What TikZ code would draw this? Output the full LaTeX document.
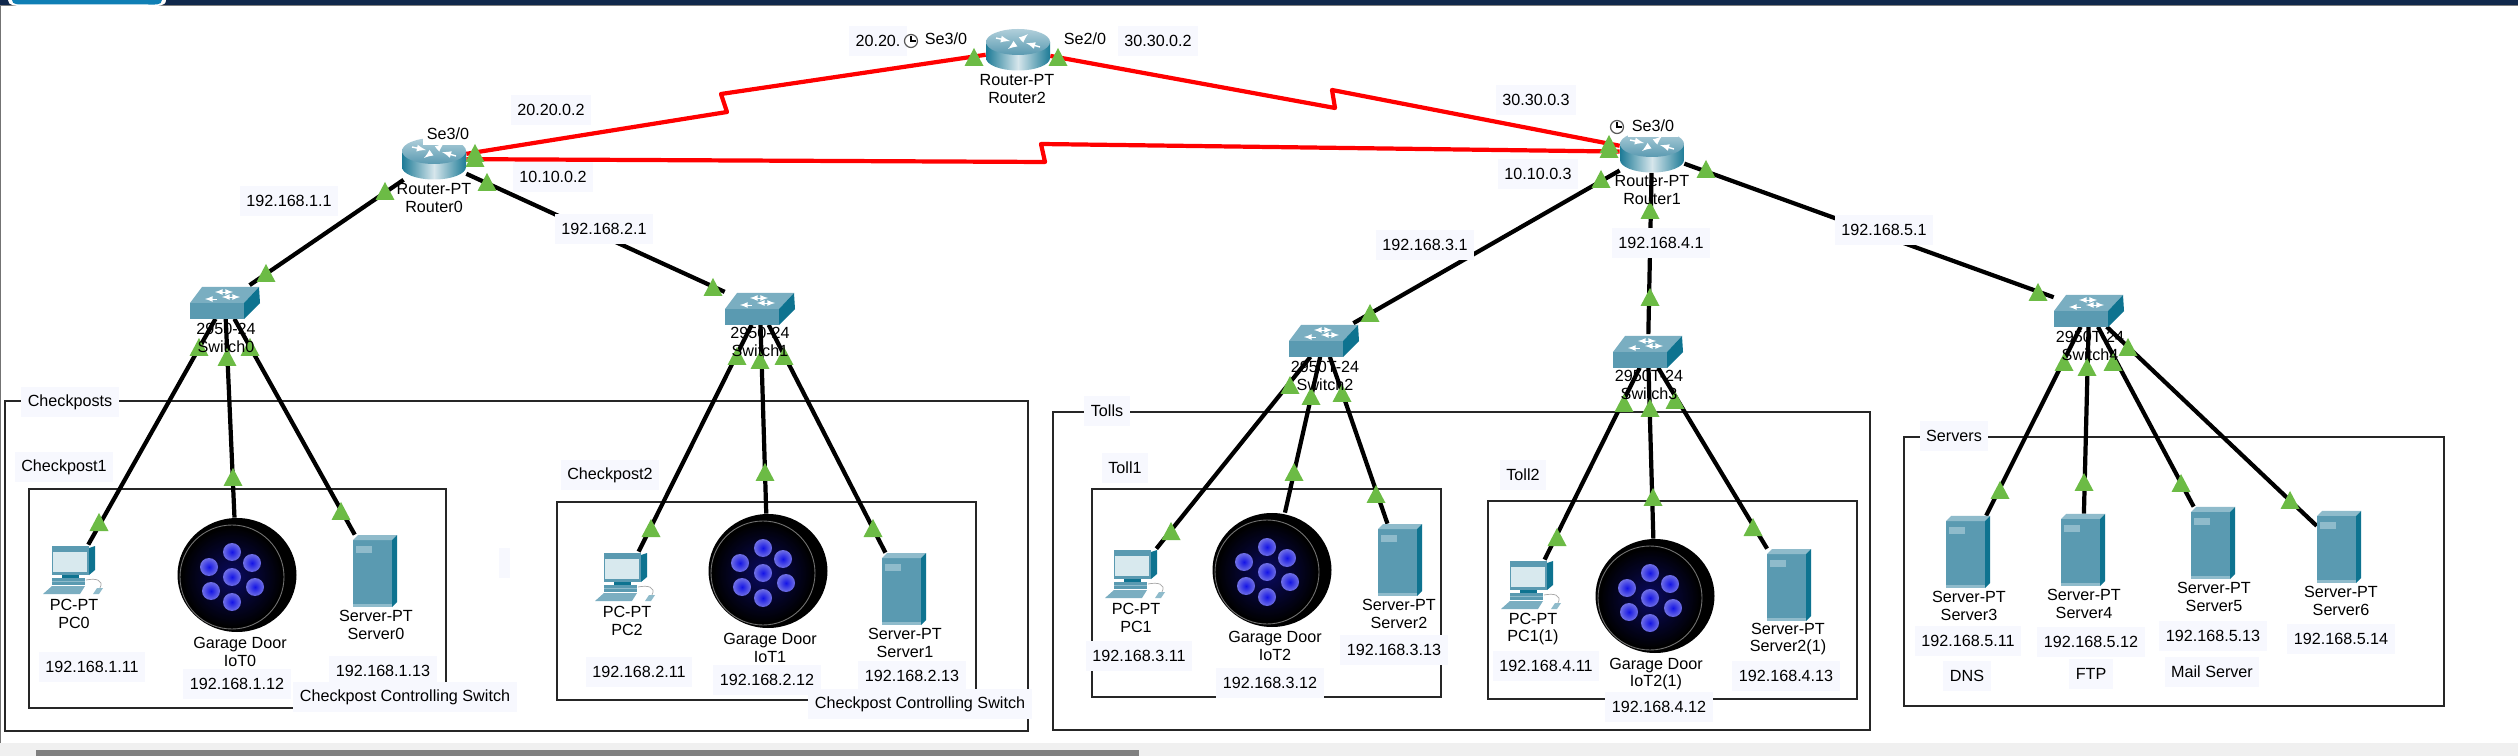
\documentclass[tikz,border=0pt]{standalone}
\usepackage{fontspec}
\setmainfont{Liberation Sans}
\definecolor{barnavy}{HTML}{10284C}
\definecolor{tabblue}{HTML}{0F7FB5}
\definecolor{lightgreen}{HTML}{6CBB45}
\definecolor{labelbg}{HTML}{F7F8FE}
\definecolor{iconfront}{HTML}{5A9AB1}
\definecolor{icontop}{HTML}{8FBBCB}
\definecolor{iconside}{HTML}{0E7390}
\definecolor{screenpale}{HTML}{D8E9EE}
\definecolor{dotblue}{HTML}{1414E6}
\definecolor{dotpale}{HTML}{7070E4}
\definecolor{discnavy}{HTML}{0A0A62}
\tikzset{
  lanlink/.style={black, line width=2.4pt},
  seriallink/.style={red, line width=2.4pt, line join=round},
  area/.style={draw=black!85, line width=0.8pt},
  devlabel/.style={align=center, inner sep=0pt, font=\fontsize{9.2}{10.2}\selectfont},
  ip/.style={fill=labelbg, inner xsep=3.7pt, inner ysep=0pt, minimum height=0.6cm,
    font=\fontsize{9.2}{10.2}\selectfont},
  port/.style={fill=white, inner xsep=2pt, inner ysep=0pt, minimum height=0.46cm,
    font=\fontsize{9.2}{10.2}\selectfont},
  routerspot/.style={minimum width=1.28cm, minimum height=0.82cm, inner sep=0pt},
  switchspot/.style={minimum width=1.4cm, minimum height=0.66cm, inner sep=0pt},
  pcspot/.style={minimum width=1.24cm, minimum height=1cm, inner sep=0pt},
  serverspot/.style={minimum width=0.88cm, minimum height=1.44cm, inner sep=0pt},
  iotspot/.style={minimum width=2.38cm, minimum height=2.28cm, inner sep=0pt},
  linklight/.pic={\fill[lightgreen] (-9.5,9) -- (0,-9) -- (9.5,9) -- cycle;},
  clockicon/.pic={
    \draw[black!65, fill=white, line width=0.7pt] (0,0) circle [radius=6.5];
    \draw[black, line width=0.7pt] (0,-4.5) -- (0,0) -- (4.5,0);
  },
  routericon/.pic={
    \shade[left color=iconside!80!iconfront, right color=iconside!80!iconfront, middle color=white!75!iconfront]
      (-32,-8) -- (-32,8) arc [start angle=180, end angle=0, x radius=32, y radius=12.5]
      -- (32,-8) -- cycle;
    \shade[top color=icontop!70!white, bottom color=iconfront] (0,-8) ellipse [x radius=32, y radius=13];
    \draw[white, line width=0.8pt, -latex] (-22,-12) -- (-8,-9);
    \draw[white, line width=0.8pt, -latex] (22,-3) -- (8,-7);
    \draw[white, line width=0.8pt, -latex] (-3,-6) -- (-10,-1);
    \draw[white, line width=0.8pt, -latex] (3,-10) -- (10,-16);
  },
  switchicon/.pic={
    \fill[iconfront] (-35,1) rectangle (19,17);
    \fill[icontop!60!iconfront] (-35,1) -- (-23,-15) -- (34,-15) -- (19,1) -- cycle;
    \fill[iconside] (19,1) -- (34,-15) -- (35,1) -- (19,17) -- cycle;
    \draw[white, line width=0.5pt, latex-latex] (-10,-10) -- (8,-10);
    \draw[white, line width=0.5pt, latex-latex] (-3,-5) -- (15,-5);
    \draw[white, line width=0.5pt, latex-] (-20,-3) -- (-8,-3);
  },
  servericon/.pic={
    \fill[iconfront] (-22,-31) rectangle (17,36);
    \fill[icontop] (-22,-31) -- (-17,-36) -- (22,-36) -- (17,-31) -- cycle;
    \fill[iconside] (17,-31) -- (22,-36) -- (22,31) -- (17,36) -- cycle;
    \fill[icontop] (-19,-25) rectangle (-3,-18);
    \fill[icontop] (-22,33) rectangle (17,36);
  },
  pcicon/.pic={
    \fill[iconfront] (-22,-24) rectangle (15,5);
    \fill[iconside] (15,-22) -- (21,-24) -- (21,0) -- (15,5) -- cycle;
    \fill[screenpale] (-21,-18) rectangle (13,2);
    \fill[iconside] (-12,5) rectangle (5,8);
    \fill[iconfront] (-22,8) rectangle (11,15);
    \fill[icontop] (-22,11) rectangle (11,12);
    \fill[iconfront!80!white] (-31,24) -- (-22,16) -- (11,16) -- (6,24) -- cycle;
    \fill[icontop] (19,24) -- (23,18) -- (29,18) -- (25,24) -- cycle;
    \draw[black!35, line width=0.4pt] (12,10) .. controls (22,8) and (30,10) .. (26,18);
  },
  ioticon/.pic={
    \fill[black] (0,0) ellipse [x radius=59.5, y radius=57];
    \shade[inner color=discnavy, outer color=black] (-5,2) circle [radius=50];
    \draw[black!55, line width=0.5pt] (-5,2) circle [radius=52];
    \foreach \a/\b in {-5/2, -5/-23, 15/-12, 18/12, -5/27, -26/16, -28/-8}
      \shade[inner color=dotblue, outer color=dotpale] (\a,\b) circle [radius=9];
  },
}

\begin{document}
\begin{tikzpicture}[x=0.02cm, y=-0.02cm]
    \useasboundingbox (0,0) rectangle (2518,756);
    \fill[white] (0,0) rectangle (2518,756);
    \fill[barnavy] (0,0) rectangle (2518,5);
    \fill[black!50] (0,5) rectangle (2518,6.5);
    \fill[white] (8,0) to[out=-90, in=180] (22,6) -- (150,6) to[out=0, in=-90] (166,0) -- cycle;
    \fill[tabblue] (12,0) to[out=-90, in=180] (24,4.5) -- (148,4.5) to[out=0, in=-90] (162,0) -- cycle;
    \fill[black!55] (0,6) rectangle (1.5,743);
    \fill[black!6] (0,743) rectangle (2518,756);
    \fill[black!50] (36,750) rectangle (1139,756);
    \fill[labelbg] (499,548) rectangle (510,578);

    \draw[area] (5,401) rectangle (1028,731);
    \draw[area] (29,489) rectangle (446,708);
    \draw[area] (557,502) rectangle (976,700);
    \draw[area] (1053,412) rectangle (1870,730);
    \draw[area] (1092,489) rectangle (1441,697);
    \draw[area] (1488,501) rectangle (1857,699);
    \draw[area] (1904,437) rectangle (2444,706);

    \node[routerspot] (Router0) at (434,159) {};
    \node[routerspot] (Router1) at (1652,152) {};
    \node[routerspot] (Router2) at (1018,50) {};
    \node[switchspot] (Switch0) at (225,302) {};
    \node[switchspot] (Switch1) at (760,308) {};
    \node[switchspot] (Switch2) at (1324,340) {};
    \node[switchspot] (Switch3) at (1648,351) {};
    \node[switchspot] (Switch4) at (2089,310) {};
    \node[pcspot] (PC0) at (74,570) {};
    \node[pcspot] (PC2) at (626,577) {};
    \node[pcspot] (PC1) at (1136,574) {};
    \node[pcspot] (PC11) at (1532,585) {};
    \node[iotspot] (IoT0) at (237,575) {};
    \node[iotspot] (IoT1) at (768,571) {};
    \node[iotspot] (IoT2) at (1272,570) {};
    \node[iotspot] (IoT21) at (1655,596) {};
    \node[serverspot] (Server0) at (375,571) {};
    \node[serverspot] (Server1) at (904,589) {};
    \node[serverspot] (Server2) at (1400,560) {};
    \node[serverspot] (Server21) at (1789,585) {};
    \node[serverspot] (Server3) at (1968,552) {};
    \node[serverspot] (Server4) at (2083,550) {};
    \node[serverspot] (Server5) at (2213,543) {};
    \node[serverspot] (Server6) at (2339,547) {};

    \draw[seriallink] (Router0) -- (727,112) -- (721,94) -- (Router2);
    \draw[seriallink] (Router2) -- (1335,108) -- (1332,90) -- (Router1);
    \draw[seriallink] (Router0) -- (1045,162) -- (1041,144) -- (Router1);
    \draw[lanlink] (Router0) -- (Switch0);
    \draw[lanlink] (Router0) -- (Switch1);
    \draw[lanlink] (Router1) -- (Switch2);
    \draw[lanlink] (Router1) -- (Switch3);
    \draw[lanlink] (Router1) -- (Switch4);
    \draw[lanlink] (Switch0) -- (PC0);
    \draw[lanlink] (Switch0) -- (IoT0);
    \draw[lanlink] (Switch0) -- (Server0);
    \draw[lanlink] (Switch1) -- (PC2);
    \draw[lanlink] (Switch1) -- (IoT1);
    \draw[lanlink] (Switch1) -- (Server1);
    \draw[lanlink] (Switch2) -- (PC1);
    \draw[lanlink] (Switch2) -- (IoT2);
    \draw[lanlink] (Switch2) -- (Server2);
    \draw[lanlink] (Switch3) -- (PC11);
    \draw[lanlink] (Switch3) -- (IoT21);
    \draw[lanlink] (Switch3) -- (Server21);
    \draw[lanlink] (Switch4) -- (Server3);
    \draw[lanlink] (Switch4) -- (Server4);
    \draw[lanlink] (Switch4) -- (Server5);
    \draw[lanlink] (Switch4) -- (Server6);

    \foreach \dev in {Router0, Router1, Router2}
      \pic at (\dev) {routericon};
    \foreach \dev in {Switch0, Switch1, Switch2, Switch3, Switch4}
      \pic at (\dev) {switchicon};
    \foreach \dev in {PC0, PC2, PC1, PC11}
      \pic at (\dev) {pcicon};
    \foreach \dev in {IoT0, IoT1, IoT2, IoT21}
      \pic at (\dev) {ioticon};
    \foreach \dev in {Server0, Server1, Server2, Server21, Server3, Server4, Server5, Server6}
      \pic at (\dev) {servericon};

    \foreach \x/\y in {475/153, 475/158, 487/182, 385/191, 266/273, 713/287, 974/57, 1058/57,
      199/347, 227/357, 250/347, 737/356, 760/360, 784/356,
      1609/144, 1609/149, 1601/179, 1706/169, 1650/210, 1650/297, 1370/313, 2038/292,
      2064/362, 2087/367, 2113/362, 2128/347, 1290/385, 1311/396, 1342/393, 1624/403, 1650/408, 1675/400,
      1171/531, 1294/472, 1376/494, 1557/537, 1653/497, 1753/527, 2000/490, 2084/482, 2181/483, 2290/500,
      99/522, 233/477, 341/511, 651/528, 765/472, 873/528}
      \pic at (\x,\y) {linklight};

    \node[devlabel] (nameR0) at (434,198) {Router-PT\\Router0};
    \node[devlabel] (nameR1) at (1652,190) {Router-PT\\Router1};
    \node[devlabel] (nameR2) at (1017,89) {Router-PT\\Router2};
    \node[devlabel] (nameS0) at (226,338) {2950-24\\Switch0};
    \node[devlabel] (nameS1) at (760,342) {2950-24\\Switch1};
    \node[devlabel] (nameS2) at (1325,376) {2950T-24\\Switch2};
    \node[devlabel] (nameS3) at (1649,385) {2950T-24\\Switch3};
    \node[devlabel] (nameS4) at (2090,346) {2950T-24\\Switch4};
    \node[devlabel] (namePC0) at (74,614) {PC-PT\\PC0};
    \node[devlabel] (namePC2) at (627,621) {PC-PT\\PC2};
    \node[devlabel] (namePC1) at (1136,618) {PC-PT\\PC1};
    \node[devlabel] (namePC11) at (1533,629) {PC-PT\\PC1(1)};
    \node[devlabel] (nameI0) at (240,652) {Garage Door\\IoT0};
    \node[devlabel] (nameI1) at (770,648) {Garage Door\\IoT1};
    \node[devlabel] (nameI2) at (1275,646) {Garage Door\\IoT2};
    \node[devlabel] (nameI21) at (1656,674) {Garage Door\\IoT2(1)};
    \node[devlabel] (nameSv0) at (376,625) {Server-PT\\Server0};
    \node[devlabel] (nameSv1) at (905,643) {Server-PT\\Server1};
    \node[devlabel] (nameSv2) at (1399,614) {Server-PT\\Server2};
    \node[devlabel] (nameSv21) at (1788,639) {Server-PT\\Server2(1)};
    \node[devlabel] (nameSv3) at (1969,606) {Server-PT\\Server3};
    \node[devlabel] (nameSv4) at (2084,604) {Server-PT\\Server4};
    \node[devlabel] (nameSv5) at (2214,597) {Server-PT\\Server5};
    \node[devlabel] (nameSv6) at (2341,601) {Server-PT\\Server6};

    \node[port] (portR0) at (448,134) {Se3/0};
    \node[port] (portR1) at (1653,126) {Se3/0};
    \node[port] (portR2a) at (946,39) {Se3/0};
    \node[port] (portR2b) at (1085,39) {Se2/0};

    \node[ip] (ipA) at (878,41) {20.20.};
    \node[ip] (ipB) at (1158,41) {30.30.0.2};
    \node[ip] (ipC) at (551,110) {20.20.0.2};
    \node[ip] (ipD) at (553,177) {10.10.0.2};
    \node[ip] (ipE) at (1536,100) {30.30.0.3};
    \node[ip] (ipF) at (1538,174) {10.10.0.3};
    \node[ip] (ipG) at (289,201) {192.168.1.1};
    \node[ip] (ipH) at (604,229) {192.168.2.1};
    \node[ip] (ipI) at (1425,245) {192.168.3.1};
    \node[ip] (ipJ) at (1661,243) {192.168.4.1};
    \node[ip] (ipK) at (1884,230) {192.168.5.1};
    \node[ip] (ipPC0) at (92,667) {192.168.1.11};
    \node[ip] (ipI0) at (237,684) {192.168.1.12};
    \node[ip] (ipSv0) at (383,671) {192.168.1.13};
    \node[ip] (ipPC2) at (639,672) {192.168.2.11};
    \node[ip] (ipI1) at (767,680) {192.168.2.12};
    \node[ip] (ipSv1) at (912,676) {192.168.2.13};
    \node[ip] (ipPC1) at (1139,656) {192.168.3.11};
    \node[ip] (ipI2) at (1270,683) {192.168.3.12};
    \node[ip] (ipSv2) at (1394,650) {192.168.3.13};
    \node[ip] (ipPC11) at (1546,666) {192.168.4.11};
    \node[ip] (ipI21) at (1659,707) {192.168.4.12};
    \node[ip] (ipSv21) at (1786,676) {192.168.4.13};
    \node[ip] (ipSv3) at (1968,641) {192.168.5.11};
    \node[ip] (ipSv4) at (2091,642) {192.168.5.12};
    \node[ip] (ipSv5) at (2213,636) {192.168.5.13};
    \node[ip] (ipSv6) at (2341,639) {192.168.5.14};
    \node[ip] (roleDNS) at (1967,676) {DNS};
    \node[ip] (roleFTP) at (2091,674) {FTP};
    \node[ip] (roleMail) at (2212,672) {Mail Server};
    \node[ip] (areaCheckposts) at (70,402) {Checkposts};
    \node[ip] (areaCheckpost1) at (64,467) {Checkpost1};
    \node[ip] (areaCheckpost2) at (610,475) {Checkpost2};
    \node[ip] (areaTolls) at (1107,411) {Tolls};
    \node[ip] (areaToll1) at (1125,468) {Toll1};
    \node[ip] (areaToll2) at (1523,475) {Toll2};
    \node[ip] (areaServers) at (1954,436) {Servers};
    \node[ip] (noteA) at (405,697) {Checkpost Controlling Switch};
    \node[ip] (noteB) at (920,704) {Checkpost Controlling Switch};
    \pic at (911,41) {clockicon};
    \pic at (1617,127) {clockicon};
  \end{tikzpicture}
\end{document}
